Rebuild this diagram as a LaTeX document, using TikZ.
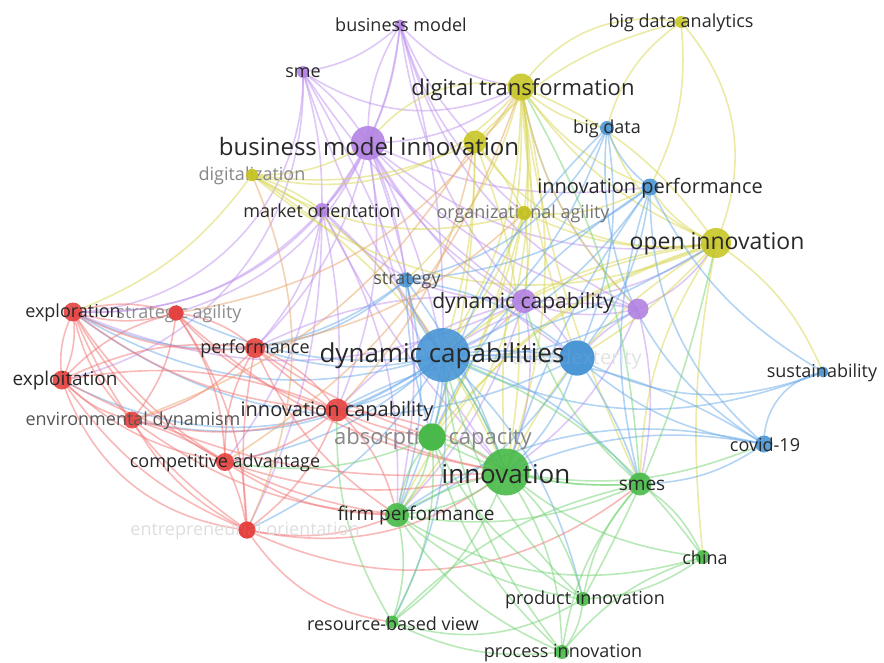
\documentclass[tikz,border=0pt]{standalone}
\usepackage{fontspec}
\setmainfont{Open Sans}
\usetikzlibrary{backgrounds}
\definecolor{cr}{RGB}{230,65,62}
\definecolor{cg}{RGB}{72,186,72}
\definecolor{cb}{RGB}{74,150,214}
\definecolor{cy}{RGB}{200,198,40}
\definecolor{cp}{RGB}{178,130,226}
\definecolor{lr}{RGB}{242,115,115}
\definecolor{lg}{RGB}{115,210,115}
\definecolor{lb}{RGB}{105,170,232}
\definecolor{ly}{RGB}{215,213,80}
\definecolor{lp}{RGB}{190,145,238}
\definecolor{lo}{RGB}{232,165,105}
\definecolor{labc}{RGB}{40,40,40}
\begin{document}
\begin{tikzpicture}[x=1pt,y=-1pt,
  dot/.style={circle,inner sep=0pt,draw=none,fill opacity=0.9},
  lab/.style={text=labc,inner sep=0pt,font=\fontsize{#1}{#1}\selectfont},
  lab/.default=18,
  edg/.style={line width=1.6pt,draw opacity=0.5},
  er/.style={edg,draw=lr}, eg/.style={edg,draw=lg}, eb/.style={edg,draw=lb},
  ey/.style={edg,draw=ly}, ep/.style={edg,draw=lp}, eor/.style={edg,draw=lo}]
\useasboundingbox (0,0) rectangle (884,662);
% ---------------- nodes ----------------
\node[dot,fill=cp,minimum size=11pt] (bm) at (400,25) {};
\node[dot,fill=cp,minimum size=12pt] (sme) at (303,72) {};
\node[dot,fill=cy,minimum size=27pt] (dt) at (521,87) {};
\node[dot,fill=cy,minimum size=12pt] (bda) at (681,22) {};
\node[dot,fill=cb,minimum size=14pt] (bd) at (607,128) {};
\node[dot,fill=cp,minimum size=34pt] (bmi) at (368,143) {};
\node[dot,fill=cy,minimum size=23pt] (yu) at (475,142) {};
\node[dot,fill=cy,minimum size=12pt] (dig) at (252,175) {};
\node[dot,fill=cp,minimum size=14pt] (mo) at (322,210) {};
\node[dot,fill=cy,minimum size=14pt] (oa) at (524,213) {};
\node[dot,fill=cb,minimum size=17pt] (ip) at (650,187) {};
\node[dot,fill=cy,minimum size=30pt] (oi) at (716,243) {};
\node[dot,fill=cb,minimum size=15pt] (str) at (406,280) {};
\node[dot,fill=cp,minimum size=24pt] (dcy) at (524,301) {};
\node[dot,fill=cp,minimum size=21pt] (pu) at (638,309) {};
\node[dot,fill=cb,minimum size=17pt] (cov) at (764,444) {};
\node[dot,fill=cb,minimum size=11pt] (sus) at (823,372) {};
\node[dot,fill=cr,minimum size=19pt] (expl) at (73,312) {};
\node[dot,fill=cr,minimum size=15pt] (sa) at (176,313) {};
\node[dot,fill=cr,minimum size=20pt] (perf) at (255,348) {};
\node[dot,fill=cr,minimum size=19pt] (expt) at (62,380) {};
\node[dot,fill=cr,minimum size=17pt] (ed) at (132,420) {};
\node[dot,fill=cr,minimum size=23pt] (ic) at (337,410) {};
\node[dot,fill=cg,minimum size=27pt] (ac) at (432,437) {};
\node[dot,fill=cr,minimum size=18pt] (ca) at (225,462) {};
\node[dot,fill=cg,minimum size=24pt] (fp) at (397,515) {};
\node[dot,fill=cr,minimum size=17pt] (eo) at (247,530) {};
\node[dot,fill=cg,minimum size=14pt] (chi) at (703,557) {};
\node[dot,fill=cg,minimum size=14pt] (pi) at (583,599) {};
\node[dot,fill=cg,minimum size=13pt] (rbv) at (392,622) {};
\node[dot,fill=cg,minimum size=14pt] (proc) at (562,652) {};
\node[dot,fill=cg,minimum size=23pt] (smes) at (640,484) {};
\node[dot,fill=cb,minimum size=35pt] (amb) at (577,358) {};
\node[dot,fill=cg,minimum size=47pt] (inn) at (506,472) {};
\node[dot,fill=cb,minimum size=54pt] (dc) at (443,355) {};
% ---------------- edges ----------------
\begin{scope}[on background layer]
\foreach \a/\b/\t in {bm/sme/10,bm/bmi/6,bm/bmi/-10,bm/dt/-12,bm/dcy/-10,bm/mo/10,bm/yu/-6,bm/dc/5,bm/oa/-10,bm/pu/-15,
 sme/bmi/6,sme/mo/5,sme/dc/-5,sme/dt/-18,sme/expl/28,sme/dcy/-6,sme/str/2,sme/expt/25,
 bmi/dcy/-10,bmi/dc/5,bmi/mo/6,bmi/dt/-12,bmi/oi/-15,bmi/pu/-10,bmi/ip/-10,bmi/perf/10,bmi/fp/10,bmi/inn/-10,bmi/expl/20,bmi/ic/10,bmi/sa/15,bmi/str/5,bmi/amb/-8,
 dcy/pu/-10,dcy/dc/10,dcy/amb/10,dcy/inn/10,dcy/mo/15,dcy/perf/-10,dcy/ic/-10,dcy/oi/-10,dcy/expl/15,dcy/fp/8,
 mo/dc/5,mo/perf/10,mo/ic/5,mo/ca/10,mo/fp/10,mo/inn/-5,mo/expl/15,mo/eo/8,
 pu/dc/-15,pu/amb/-5,pu/oi/-10,pu/inn/10,pu/dt/10,pu/smes/8}
  {\pgfmathsetmacro\bb{1.6*\t}\draw[ep] (\a.center) to[bend left=\bb] (\b.center);}
\foreach \a/\b/\t in {dt/bda/20,dt/oi/-10,dt/oi/10,dt/ip/-10,dt/bd/-10,dt/yu/10,dt/oa/5,dt/dc/10,dt/inn/10,dt/smes/-5,dt/dig/20,dt/bmi/-20,dt/dcy/5,dt/amb/-5,dt/ac/10,dt/pu/-10,dt/str/10,dt/fp/15,
 bda/oi/20,bda/ip/10,bda/bd/-12,bda/yu/-10,
 oi/ip/10,oi/dc/-10,oi/inn/-10,oi/smes/-10,oi/amb/5,oi/dcy/-5,oi/ac/-10,oi/fp/-15,oi/sus/10,oi/bd/15,oi/yu/20,oi/oa/10,oi/chi/-5,
 yu/dc/5,yu/inn/10,yu/dig/10,yu/oa/5,yu/ac/5,
 dig/dc/10,dig/expl/10,dig/bmi/-10,dig/oa/-15,dig/mo/5,dig/oi/-20,dig/inn/10,
 oa/dc/5,oa/inn/-5,oa/ac/5,oa/dcy/5,oa/ip/-10}
  {\pgfmathsetmacro\bb{1.6*\t}\draw[ey] (\a.center) to[bend left=\bb] (\b.center);}
\foreach \a/\b/\t in {dc/str/10,dc/amb/5,dc/ip/-10,dc/bd/-10,dc/cov/10,dc/sus/-15,dc/inn/5,dc/ac/5,dc/fp/5,dc/smes/10,dc/oi/-5,dc/perf/10,dc/expl/15,dc/expt/20,dc/sa/10,dc/ed/15,dc/ic/10,dc/ca/10,dc/eo/10,dc/rbv/10,dc/pi/10,dc/pu/-10,
 amb/sus/-15,amb/cov/-10,amb/ip/-10,amb/inn/10,amb/smes/5,amb/fp/10,amb/ic/-10,amb/str/-10,amb/bd/-10,amb/expl/20,
 ip/bd/10,ip/cov/-15,ip/str/10,ip/smes/-10,ip/ac/-10,ip/sus/-10,ip/inn/-5,
 bd/str/15,bd/cov/-20,bd/ac/-10,
 sus/cov/-25,cov/smes/10,cov/inn/-10,cov/fp/-15,
 str/inn/5,str/ac/-5,str/expl/20,str/perf/10,str/fp/10}
  {\pgfmathsetmacro\bb{1.6*\t}\draw[eb] (\a.center) to[bend left=\bb] (\b.center);}
\foreach \a/\b/\t in {expl/expt/10,expl/expt/-10,expl/sa/10,expl/sa/-10,expl/perf/-10,expl/ed/-10,expl/ca/-10,expl/ic/-10,expl/eo/-10,expl/fp/-15,
 expt/sa/10,expt/perf/10,expt/ed/-10,expt/ca/-10,expt/ic/10,expt/eo/-10,expt/inn/-10,
 sa/perf/10,sa/ed/10,sa/ca/10,sa/ic/-10,sa/eo/10,sa/inn/-10,
 perf/ic/10,perf/ca/-10,perf/ed/10,perf/eo/-5,perf/fp/-10,perf/inn/-10,perf/ac/-5,
 ed/ca/5,ed/ic/-10,ed/eo/-10,ed/fp/-10,
 ic/ca/10,ic/eo/10,ic/inn/10,ic/fp/10,ic/ac/-5,
 ca/eo/5,ca/fp/-10,ca/inn/-10,
 eo/fp/-10,eo/inn/-15,eo/smes/-20,eo/rbv/-15,eo/expt/20}
  {\pgfmathsetmacro\bb{1.6*\t}\draw[er] (\a.center) to[bend left=\bb] (\b.center);}
\foreach \a/\b/\t in {inn/ac/-10,inn/fp/10,inn/fp/-5,inn/smes/-5,inn/chi/-10,inn/pi/10,inn/proc/10,inn/rbv/10,inn/dc/-5,inn/cov/-10,
 ac/fp/10,ac/fp/-10,ac/rbv/10,ac/pi/-10,ac/smes/-10,ac/ca/10,
 fp/rbv/10,fp/pi/-10,fp/proc/-10,fp/smes/-10,fp/chi/-15,
 smes/chi/10,smes/pi/-10,smes/proc/-10,smes/rbv/-10,smes/dcy/10,
 pi/proc/10,rbv/proc/-10,rbv/pi/-15,chi/pi/10,chi/proc/-10,
 pi/dc/10,proc/dc/10,chi/dc/-10,pi/oi/-5,proc/ac/10,rbv/ic/10,smes/dt/-8}
  {\pgfmathsetmacro\bb{1.6*\t}\draw[eg] (\a.center) to[bend left=\bb] (\b.center);}
\foreach \a/\b/\t in {ic/yu/-10,perf/oa/-10,ca/dt/-12,eo/dig/-15,sa/dt/-15,ed/yu/-12}
  {\pgfmathsetmacro\bb{1.6*\t}\draw[eor] (\a.center) to[bend left=\bb] (\b.center);}
\end{scope}
% ---------------- faint labels (behind nodes) ----------------
\node[lab=20,text={rgb,255:red,226;green,226;blue,226}] (l-amb) at (577,359) {ambidexterity};
\node[lab=18,text={rgb,255:red,222;green,222;blue,222}] (l-eo) at (245,531) {entrepreneurial orientation};
\node[lab=18,text={rgb,255:red,135;green,135;blue,135}] (l-dig) at (252,176) {digitalization};
\node[lab=18,text={rgb,255:red,115;green,115;blue,115}] (l-oa) at (523,214) {organizational agility};
\node[lab=18,text={rgb,255:red,140;green,140;blue,140}] (l-sa) at (179,314) {strategic agility};
\node[lab=22,text={rgb,255:red,135;green,135;blue,135}] (l-ac) at (433,439) {absorptive capacity};
% re-draw nodes on top of faint labels
\node[dot,fill=cb,minimum size=35pt] (amb2) at (amb) {};
\node[dot,fill=cr,minimum size=17pt] (eo2) at (eo) {};
\node[dot,fill=cy,minimum size=12pt] (dig2) at (dig) {};
\node[dot,fill=cy,minimum size=14pt] (oa2) at (oa) {};
\node[dot,fill=cr,minimum size=15pt] (sa2) at (sa) {};
\node[dot,fill=cg,minimum size=27pt] (ac2) at (ac) {};
% ---------------- labels ----------------
\node[lab] (l-bm) at (401,25) {business model};
\node[lab] (l-sme) at (303,73) {sme};
\node[lab=22] (l-dt) at (523,90) {digital transformation};
\node[lab] (l-bda) at (681,23) {big data analytics};
\node[lab] (l-bd) at (607,129) {big data};
\node[lab=24] (l-bmi) at (369,146) {business model innovation};
\node[lab] (l-mo) at (322,211) {market orientation};
\node[lab=20] (l-ip) at (650,188) {innovation performance};
\node[lab=23] (l-oi) at (717,244) {open innovation};
\node[lab=18,text={rgb,255:red,85;green,85;blue,85}] (l-str) at (407,281) {strategy};
\node[lab=21] (l-dcy) at (523,303) {dynamic capability};
\node[lab=26] (l-dc) at (442,356) {dynamic capabilities};
\node[lab] (l-sus) at (822,373) {sustainability};
\node[lab] (l-expl) at (73,313) {exploration};
\node[lab] (l-perf) at (255,349) {performance};
\node[lab=19] (l-expt) at (65,381) {exploitation};
\node[lab=18,text={rgb,255:red,85;green,85;blue,85}] (l-ed) at (133,421) {environmental dynamism};
\node[lab=20] (l-ic) at (337,411) {innovation capability};
\node[lab] (l-ca) at (225,463) {competitive advantage};
\node[lab=26] (l-inn) at (506,474) {innovation};
\node[lab=19] (l-smes) at (642,485) {smes};
\node[lab] (l-cov) at (765,445) {covid-19};
\node[lab=19] (l-fp) at (416,516) {firm performance};
\node[lab] (l-chi) at (705,558) {china};
\node[lab] (l-pi) at (585,600) {product innovation};
\node[lab] (l-rbv) at (393,624) {resource-based view};
\node[lab] (l-proc) at (563,653) {process innovation};
\end{tikzpicture}
\end{document}
